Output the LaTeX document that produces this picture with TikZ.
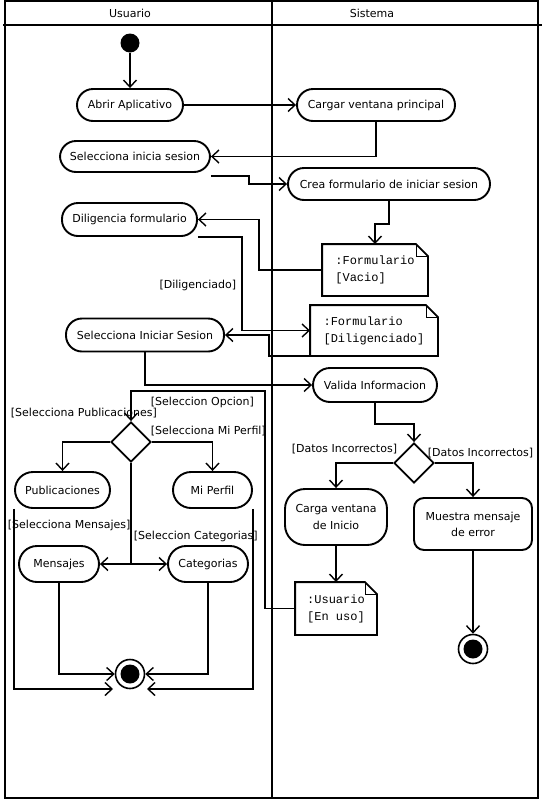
\documentclass[tikz,border=0pt]{standalone}
\usepackage{fontspec}
\setmainfont{DejaVu Sans}
\newfontfamily\monofnt{Liberation Mono}
\usetikzlibrary{arrows.meta,shapes.geometric,calc}

% object node outline with a folded top-right corner
\newcommand\foldednote[1]{%
  \draw (#1.north west) -- ([xshift=-12pt]#1.north east) -- ([yshift=-12pt]#1.north east)
        -- (#1.south east) -- (#1.south west) -- cycle;
  \draw[line width=0.7pt] ([xshift=-12pt]#1.north east) |- ([yshift=-12pt]#1.north east);}

\begin{document}
\begin{tikzpicture}[x=1pt,y=-1pt,line width=1.9pt,
  font=\fontsize{11}{13}\selectfont,
  act/.style={draw, rounded corners=16pt, minimum height=32pt, inner sep=0pt},
  tallact/.style={draw, rounded corners=18pt, minimum height=36pt, inner sep=0pt},
  objnote/.style={inner sep=0pt, align=left, font=\monofnt\fontsize{12}{17}\selectfont},
  dec/.style={diamond, draw, minimum width=40pt, minimum height=40pt, inner sep=0pt},
  flow/.style={-{Straight Barb[length=7pt,width=13pt,line width=1.4pt]}},
  lbl/.style={inner sep=0pt},
  startdot/.style={circle, fill, minimum size=19pt, inner sep=0pt},
  enddot/.style={circle, draw, line width=1.6pt, minimum size=29pt, inner sep=0pt},
]
\useasboundingbox (0,0) rectangle (542,801);

% swimlanes
\draw (5,1) rectangle (538,798);
\draw (272,1) -- (272,798);
\draw (3,25) -- (542,25);
\node (laneU) at (130,13) {Usuario};
\node (laneS) at (372,13) {Sistema};

% actions
\node[startdot] (init) at (130,43) {};
\node[act, minimum width=106pt] (abrir) at (130,105) {Abrir Aplicativo};
\node[act, minimum width=158pt] (cargar) at (376,105) {Cargar ventana principal};
\node[act, minimum width=150pt, minimum height=31pt] (selini) at (135,156.5) {Selecciona inicia sesion};
\node[act, minimum width=202pt] (crea) at (389,184) {Crea formulario de iniciar sesion};
\node[act, minimum width=135pt, minimum height=33pt] (dilig) at (129.5,219.5) {Diligencia formulario};
\node[act, minimum width=158pt, minimum height=33pt] (selinic) at (145,335) {Selecciona Iniciar Sesion};
\node[act, minimum width=124pt, minimum height=34pt, rounded corners=17pt] (valida) at (375,385) {Valida Informacion};

% object nodes
\node[objnote, minimum width=104pt, minimum height=50pt] (vacio) at (375,270) {:Formulario\\{[Vacio]}};
\foldednote{vacio}
\node[objnote, minimum width=126pt, minimum height=49pt] (dilnote) at (374,330.5) {:Formulario\\{[Diligenciado]}};
\foldednote{dilnote}

% decisions
\node[dec] (dec1) at (131,442) {};
\node[dec] (dec2) at (414,463) {};

% options of the user
\node[tallact, minimum width=95pt] (pub) at (62.5,490) {Publicaciones};
\node[tallact, minimum width=79pt] (perfil) at (212.5,490) {Mi Perfil};
\node[tallact, minimum width=80pt] (mens) at (59,564) {Mensajes};
\node[tallact, minimum width=80pt] (cat) at (208,564) {Categorias};
\node[enddot] (fin1) at (130,674) {};
\fill (fin1.center) circle[radius=9.5pt];

% system answers
\node[draw, rounded corners=20pt, minimum width=102pt, minimum height=56pt, inner sep=0pt,
      align=center, font=\fontsize{11}{17}\selectfont] (carga) at (336,517) {Carga ventana\\de Inicio};
\node[draw, rounded corners=10pt, minimum width=118pt, minimum height=52pt, inner sep=0pt,
      align=center, font=\fontsize{11}{16}\selectfont] (muestra) at (473,524) {Muestra mensaje\\de error};
\node[objnote, minimum width=80pt, minimum height=51pt] (usernote) at (336,608.5) {:Usuario\\{[En uso]}};
\foldednote{usernote}
\node[enddot] (fin2) at (473,649) {};
\fill (fin2.center) circle[radius=9.5pt];

% flows
\draw[flow] (init) -- (abrir);
\draw[flow] (abrir) -- (cargar);
\draw[flow] (cargar.south) |- (selini.east);
\draw[flow] ([yshift=-3pt]selini.south east) -- ++(38,0) |- (crea.west);
\draw[flow] (crea.south) -- ++(0,23) -| (vacio.north);
\draw[flow] (vacio.west) -- ++(-63,0) |- (dilig.east);
\draw[flow] (dilig.south east) -- ++(44,0) |- (dilnote.west);
\node[lbl, anchor=east] (lblDil) at (237,285) {[Diligenciado]};
\draw[flow] (dilnote.south east) -- ++(-169,0) |- (selinic.east);
\draw[flow] (selinic.south) |- (valida.west);
\draw[flow] (valida.south) -- ++(0,21) -| (dec2.north);
\draw[flow] (dec2.west) -| (carga.north);
\draw[flow] (dec2.east) -| (muestra.north);
\node[lbl, anchor=east] (lblD1) at (398,449) {[Datos Incorrectos]};
\node[lbl, anchor=west] (lblD2) at (427,453) {[Datos Incorrectos]};
\draw[flow] (carga.south) -- (usernote.north);
\draw[flow] (muestra.south) -- (fin2.north);

\draw[flow] (usernote.west) -- ++(-30,0) |- ($(dec1.north)+(0,-30)$) -- (dec1.north);
\node[lbl, anchor=west] (lblOp) at (150,402) {[Seleccion Opcion]};
\draw[flow] (dec1.west) -| (pub.north);
\draw[flow] (dec1.east) -| (perfil.north);
\draw[flow] (dec1.south) |- (mens.east);
\draw[flow] (dec1.south) |- (cat.west);
\node[lbl, anchor=west] (lblPub) at (10,413) {[Selecciona Publicaciones]};
\node[lbl, anchor=west] (lblPer) at (150,431) {[Selecciona Mi Perfil]};
\node[lbl, anchor=west] (lblMen) at (7,525) {[Selecciona Mensajes]};
\node[lbl, anchor=west] (lblCat) at (133,536) {[Seleccion Categorias]};

\draw[flow] (mens.south) |- (fin1.west);
\draw[flow] (cat.south) |- (fin1.east);
\draw[flow] (pub.south west) |- ($(fin1.center)+(-17,15)$);
\draw[flow] (perfil.south east) |- ($(fin1.center)+(17,15)$);
\end{tikzpicture}
\end{document}
